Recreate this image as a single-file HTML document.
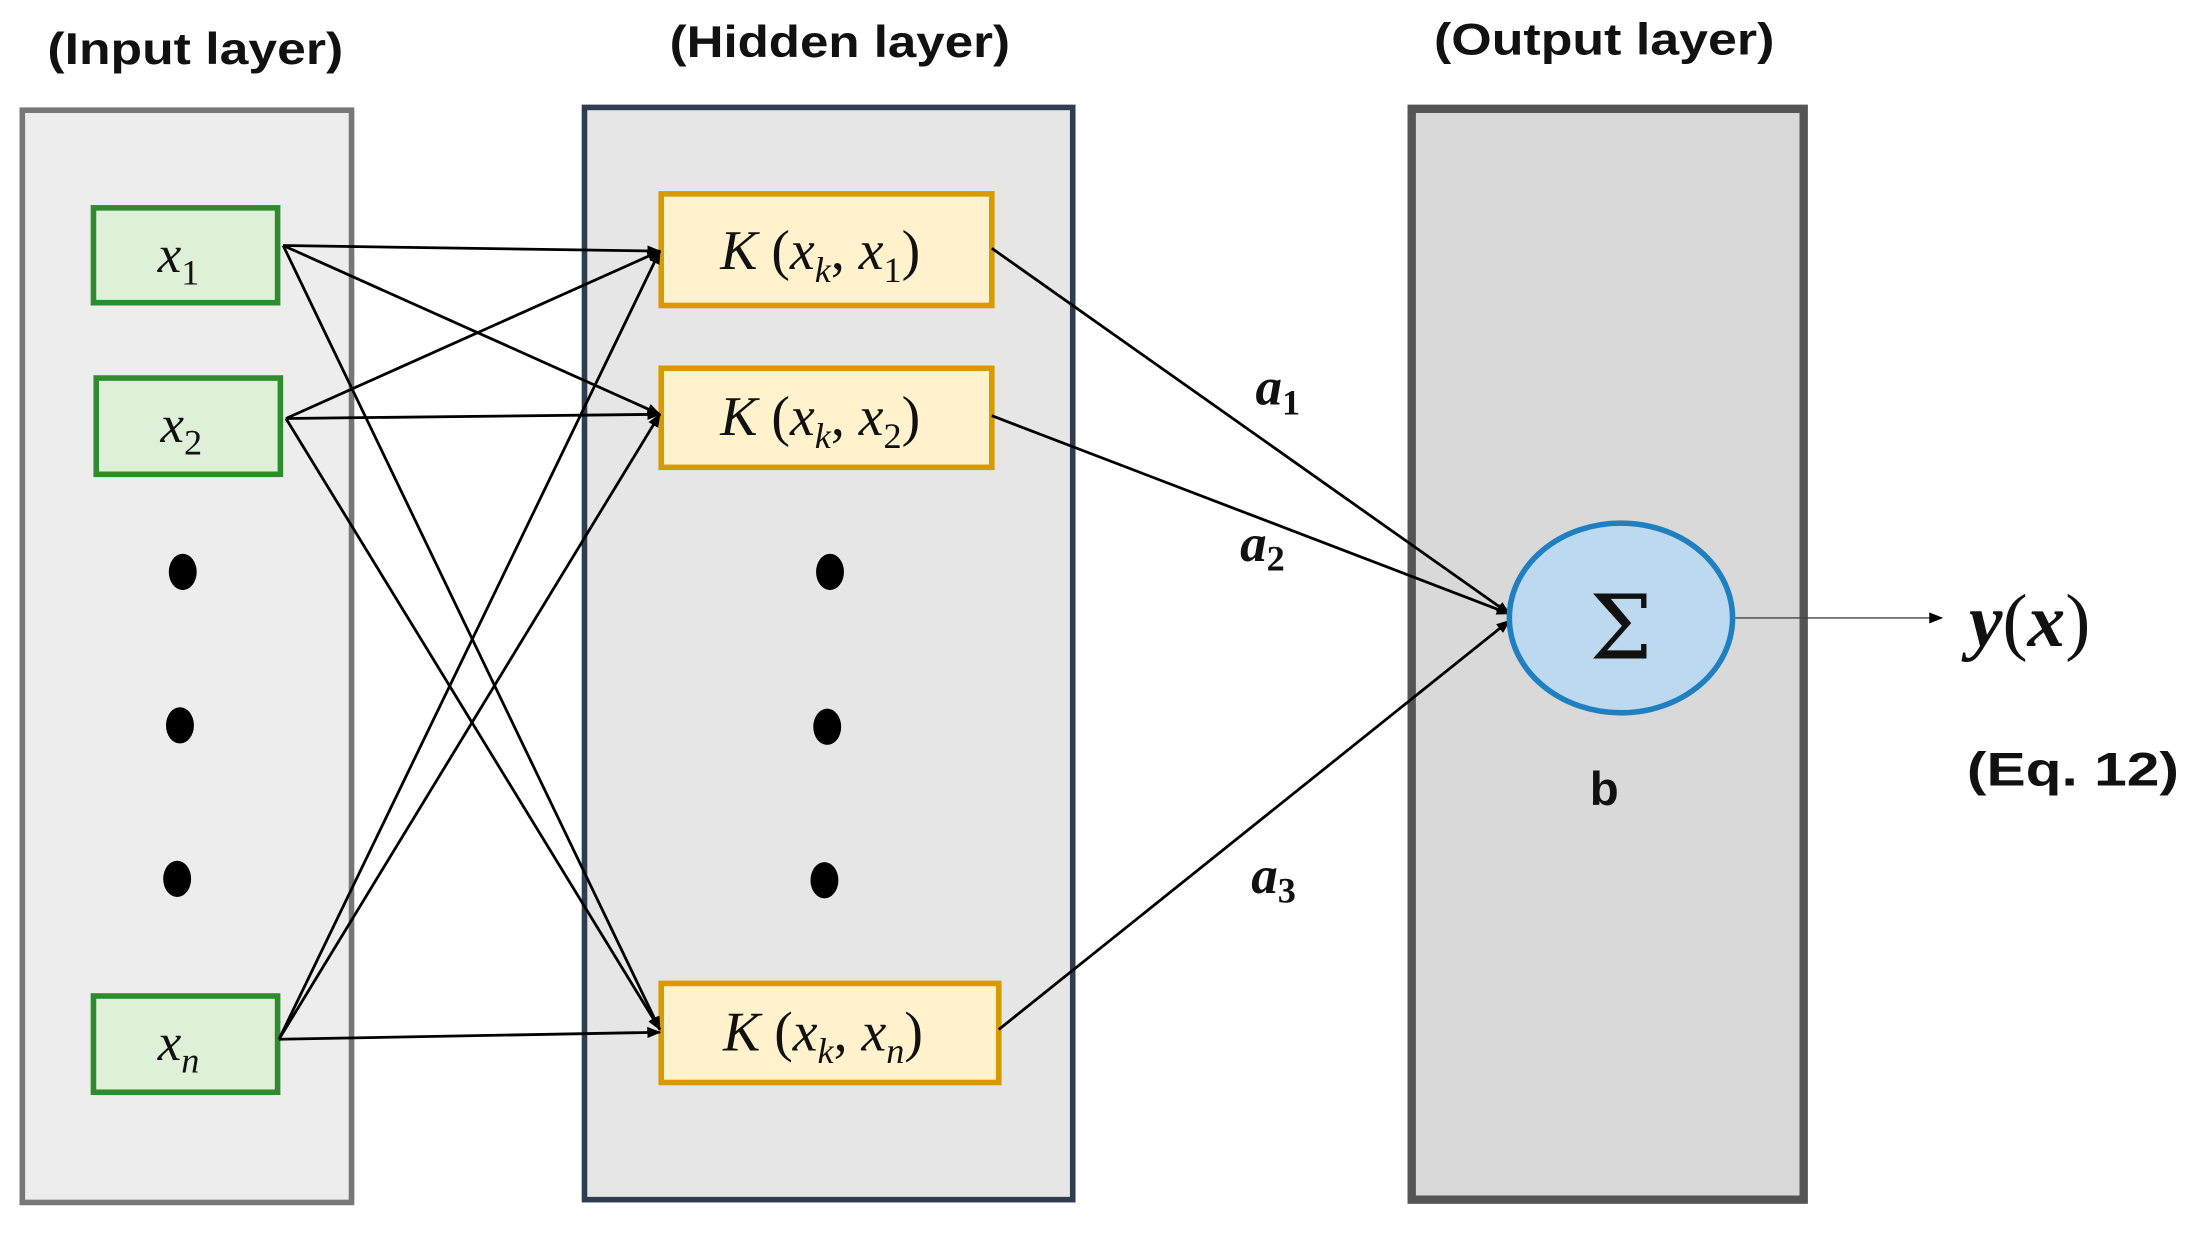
<!DOCTYPE html>
<html><head><meta charset="utf-8"><style>html,body{margin:0;padding:0;background:#fff}svg{display:block}</style></head>
<body>
<svg width="2188" height="1239" viewBox="0 0 1568.5 888.2" preserveAspectRatio="none" xmlns="http://www.w3.org/2000/svg">
<defs>
<marker id="ar" markerWidth="10" markerHeight="10" refX="9" refY="5" orient="auto" markerUnits="userSpaceOnUse"><path d="M0,1 L10,5 L0,9 Z" fill="#000"/></marker>
</defs>
<g font-family="Liberation Sans, sans-serif" font-weight="bold" font-size="32" fill="#111" text-anchor="middle">
<text x="140" y="46" textLength="212" lengthAdjust="spacingAndGlyphs">(Input layer)</text>
<text x="602" y="41" textLength="244" lengthAdjust="spacingAndGlyphs">(Hidden layer)</text>
<text x="1150" y="39" textLength="244" lengthAdjust="spacingAndGlyphs">(Output layer)</text>
</g>
<rect x="16" y="79" width="236" height="783" fill="#ededed" stroke="#777" stroke-width="4"/>
<rect x="419" y="77" width="350" height="783" fill="#e6e6e6" stroke="#2e3e50" stroke-width="4"/>
<rect x="1012" y="78" width="281" height="782" fill="#d9d9d9" stroke="#555" stroke-width="6"/>
<g fill="#dff0d8" stroke="#2e8b2e" stroke-width="4">
<rect x="67" y="149" width="132" height="68"/>
<rect x="69" y="271" width="132" height="69"/>
<rect x="67" y="714" width="132" height="69"/>
</g>
<g fill="#fff2cc" stroke="#d99a00" stroke-width="4">
<rect x="474" y="139" width="237" height="80"/>
<rect x="474" y="264" width="237" height="71"/>
<rect x="474" y="705" width="242" height="71"/>
</g>
<g fill="#000">
<ellipse cx="131" cy="410" rx="10" ry="13"/><ellipse cx="129" cy="520" rx="10" ry="13"/><ellipse cx="127" cy="630" rx="10" ry="13"/>
<ellipse cx="595" cy="410" rx="10" ry="13"/><ellipse cx="593" cy="521" rx="10" ry="13"/><ellipse cx="591" cy="631" rx="10" ry="13"/>
</g>
<g stroke="#000" stroke-width="2" fill="none" marker-end="url(#ar)">
<line x1="203" y1="176" x2="473" y2="180"/>
<line x1="203" y1="176" x2="473" y2="297"/>
<line x1="203" y1="176" x2="473" y2="738"/>
<line x1="205" y1="300" x2="473" y2="180"/>
<line x1="205" y1="300" x2="473" y2="297"/>
<line x1="205" y1="300" x2="473" y2="738"/>
<line x1="200" y1="745" x2="473" y2="180"/>
<line x1="200" y1="745" x2="473" y2="297"/>
<line x1="200" y1="745" x2="473" y2="740"/>
<line x1="711" y1="178" x2="1082" y2="440"/>
<line x1="711" y1="298" x2="1082" y2="440"/>
<line x1="716" y1="738" x2="1082" y2="445"/>
</g>
<line x1="1244" y1="443" x2="1392" y2="443" stroke="#444" stroke-width="1" marker-end="url(#ar)"/>
<ellipse cx="1162" cy="443" rx="80" ry="68" fill="#bcd9ef" stroke="#1f7fc0" stroke-width="4"/>
<text x="1162" y="472" font-family="DejaVu Serif, serif" font-size="64" text-anchor="middle" fill="#111">Σ</text>
<g font-family="Liberation Serif, serif" font-style="italic" font-size="38" fill="#111" text-anchor="middle">
<text x="128" y="195">x<tspan font-style="normal" font-size="26" dy="9">1</tspan></text>
<text x="130" y="317">x<tspan font-style="normal" font-size="26" dy="9">2</tspan></text>
<text x="128" y="760">x<tspan font-style="italic" font-size="26" dy="9">n</tspan></text>
</g>
<g font-family="Liberation Serif, serif" font-size="40" fill="#111" text-anchor="middle">
<text x="588" y="193"><tspan font-style="italic">K</tspan> (<tspan font-style="italic">x</tspan><tspan font-style="italic" font-size="26" dy="9">k</tspan><tspan dy="-9">, </tspan><tspan font-style="italic">x</tspan><tspan font-size="26" dy="9">1</tspan><tspan dy="-9">)</tspan></text>
<text x="588" y="312"><tspan font-style="italic">K</tspan> (<tspan font-style="italic">x</tspan><tspan font-style="italic" font-size="26" dy="9">k</tspan><tspan dy="-9">, </tspan><tspan font-style="italic">x</tspan><tspan font-size="26" dy="9">2</tspan><tspan dy="-9">)</tspan></text>
<text x="590" y="753"><tspan font-style="italic">K</tspan> (<tspan font-style="italic">x</tspan><tspan font-style="italic" font-size="26" dy="9">k</tspan><tspan dy="-9">, </tspan><tspan font-style="italic">x</tspan><tspan font-style="italic" font-size="26" dy="9">n</tspan><tspan dy="-9">)</tspan></text>
</g>
<g font-family="Liberation Serif, serif" font-style="italic" font-weight="bold" font-size="38" fill="#111" text-anchor="middle">
<text x="916" y="290">a<tspan font-style="normal" font-size="26" dy="7">1</tspan></text>
<text x="905" y="402">a<tspan font-style="normal" font-size="26" dy="7">2</tspan></text>
<text x="913" y="640">a<tspan font-style="normal" font-size="26" dy="7">3</tspan></text>
<text x="1455" y="463" font-size="54">y<tspan font-weight="normal" font-style="normal">(</tspan>x<tspan font-weight="normal" font-style="normal">)</tspan></text>
</g>
<g font-family="Liberation Sans, sans-serif" font-weight="bold" font-size="34" fill="#111" text-anchor="middle">
<text x="1150" y="577">b</text>
<text x="1486" y="563" textLength="152" lengthAdjust="spacingAndGlyphs">(Eq. 12)</text>
</g>
</svg>
</body></html>
